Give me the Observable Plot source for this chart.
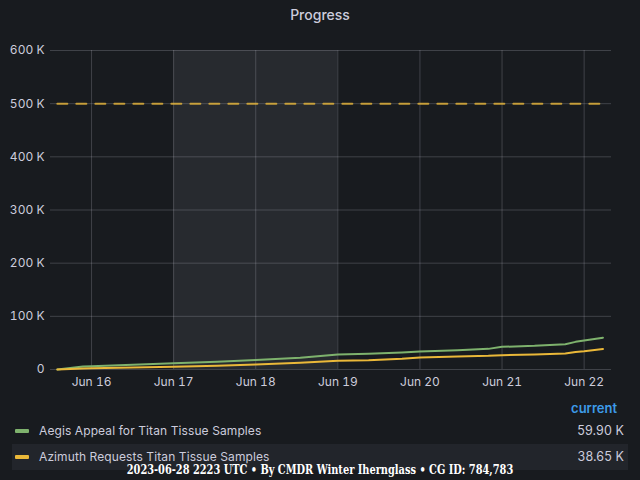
<!DOCTYPE html>
<html>
<head>
<meta charset="utf-8">
<script src="https://cdn.jsdelivr.net/npm/d3@7"></script>
<script src="https://cdn.jsdelivr.net/npm/@observablehq/plot@0.6"></script>
<style>
  html, body { margin: 0; padding: 0; background: #181b1f; }
  body { width: 640px; height: 480px; position: relative; overflow: hidden; font-family: Inter, "Noto Sans", sans-serif; color: #ccccdc; }
  #title { position: absolute; top: 6px; left: 0; width: 640px; text-align: center; font-size: 14px; color: #ccccdc; font-weight: 500; }
  #chart { position: absolute; top: 32px; left: 0; }
  #legend { position: absolute; top: 396px; left: 0; width: 640px; font-size: 12px; letter-spacing: 0.1px; }
  .hdr { position: absolute; right: 23px; top: 4px; color: #3d9be9; font-weight: 600; font-size: 13px; letter-spacing: 0; }
  .row { position: absolute; left: 12px; width: 616px; height: 26px; line-height: 26px; }
  .row.alt { background: #22252b; }
  .sw { position: absolute; left: 3px; top: 11px; width: 14px; height: 4px; border-radius: 1px; }
  .lbl { position: absolute; left: 27px; }
  .val { position: absolute; right: 4px; font-size: 12.5px; }
  #footer { position: absolute; top: 463px; left: 0; width: 640px; text-align: center; font-family: "DejaVu Serif", serif; font-weight: bold; font-size: 12px; color: #ffffff; transform: scaleX(0.818); transform-origin: 320px 0; }
</style>
</head>
<body>
<div id="title">Progress</div>
<div id="chart"></div>
<div id="legend"></div>
<div id="footer">2023-06-28 2223 UTC • By CMDR Winter Ihernglass • CG ID: 784,783</div>
<script>
const seriesNames = ["Aegis Appeal for Titan Tissue Samples", "Azimuth Requests Titan Tissue Samples"];
const seriesColors = ["#7EB26D", "#EAB839"];
const currentValues = ["59.90 K", "38.65 K"];
const times = [
  "2023-06-15T14:00Z", "2023-06-15T21:30Z", "2023-06-16T00:00Z", "2023-06-16T12:00Z",
  "2023-06-17T00:00Z", "2023-06-17T12:45Z", "2023-06-18T00:00Z", "2023-06-18T13:00Z",
  "2023-06-19T00:00Z", "2023-06-19T09:00Z", "2023-06-19T18:45Z", "2023-06-20T00:00Z",
  "2023-06-20T11:00Z", "2023-06-20T20:00Z", "2023-06-21T00:00Z", "2023-06-21T09:30Z",
  "2023-06-21T18:30Z", "2023-06-21T21:30Z", "2023-06-22T00:00Z", "2023-06-22T05:30Z"
];
const aegis = [0, 5600, 6300, 8800, 11900, 14400, 18000, 22000, 28000, 29400, 31800, 33800, 36300, 38800, 42600, 44500, 47600, 52000, 54500, 59900];
const azimuth = [0, 2000, 2500, 3800, 5000, 6900, 9400, 12500, 16500, 17500, 20000, 22500, 24400, 25800, 27000, 28200, 30000, 33000, 34500, 38650];
const weekendStart = ["2023-06-17T00:00Z"];
const weekendEnd = ["2023-06-19T00:00Z"];
const threshold = 500000;
const xDomain = ["2023-06-15T12:00Z", "2023-06-22T08:00Z"];
const yTicks = [0, 100000, 200000, 300000, 400000, 500000, 600000];

const rows = [];
[aegis, azimuth].forEach((vals, s) => {
  times.forEach((t, i) => rows.push({series: seriesNames[s], time: new Date(t), value: vals[i]}));
});
const weekends = weekendStart.map((s, i) => ({x1: new Date(s), x2: new Date(weekendEnd[i])}));
const thresholdData = [
  {time: new Date(times[0]), value: threshold},
  {time: new Date(times[times.length - 1]), value: threshold}
];

const chart = Plot.plot({
  width: 640,
  height: 363,
  marginLeft: 50,
  marginRight: 29,
  marginTop: 18,
  marginBottom: 26,
  style: {background: "transparent", color: "#ccccdc", fontFamily: "Inter, sans-serif", fontSize: "12px"},
  x: {type: "utc", domain: xDomain.map(d => new Date(d)), ticks: d3.utcDay.every(1), tickFormat: d3.utcFormat("%b %d"), tickSize: 0, tickPadding: 8, label: null},
  y: {domain: [0, 600000], ticks: yTicks, tickFormat: d => d === 0 ? "0" : (d / 1000) + " K", tickSize: 0, tickPadding: 6, label: null},
  color: {domain: seriesNames, range: seriesColors},
  marks: [
    Plot.rect(weekends, {x1: "x1", x2: "x2", fill: "#787882", fillOpacity: 0.17}),
    Plot.gridX({ticks: d3.utcDay.every(1), stroke: "#ccccdc", strokeOpacity: 0.22}),
    Plot.gridY({ticks: yTicks, stroke: "#ccccdc", strokeOpacity: 0.22}),
    Plot.line(thresholdData, {x: "time", y: "value", stroke: "#EAB839", strokeOpacity: 0.8, strokeWidth: 2, strokeDasharray: "10,9"}),
    Plot.line(rows, {x: "time", y: "value", z: "series", stroke: "series", strokeWidth: 2}),
    Plot.axisX({ticks: d3.utcDay.every(1), tickFormat: d3.utcFormat("%b %d"), tickSize: 0, tickPadding: 8, fill: "#ccccdc"}),
    Plot.axisY({ticks: yTicks, tickFormat: d => d === 0 ? "0" : (d / 1000) + " K", tickSize: 0, tickPadding: 6, fill: "#ccccdc"})
  ]
});
document.getElementById("chart").appendChild(chart);

const legend = document.getElementById("legend");
legend.innerHTML = '<div class="hdr">current</div>' + seriesNames.map((n, i) =>
  `<div class="row${i === 1 ? " alt" : ""}" style="top:${22 + i * 26}px"><span class="sw" style="background:${seriesColors[i]}"></span><span class="lbl">${n}</span><span class="val">${currentValues[i]}</span></div>`
).join("");
</script>
</body>
</html>
